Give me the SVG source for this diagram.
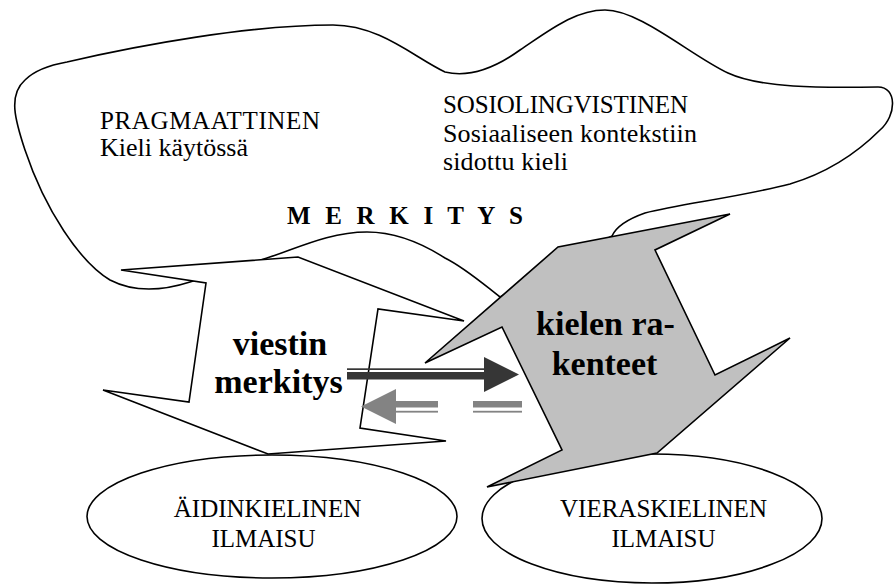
<svg xmlns="http://www.w3.org/2000/svg" width="895" height="585" viewBox="0 0 895 585">
  <style>
    .outline { stroke: #000; stroke-width: 1.6; stroke-linejoin: miter; }
    .txt { font-family: "Liberation Serif", "Times New Roman", serif; font-size: 25px; fill: #000; }
    .low { font-size: 26px; }
    .big { font-family: "Liberation Serif", "Times New Roman", serif; font-size: 34px; font-weight: bold; fill: #000; }
    .dark { fill: #363636; }
    .grey { fill: #838383; }
  </style>

  <!-- background -->
  <rect x="0" y="0" width="895" height="585" fill="#fff"/>

  <!-- meaning cloud -->
  <g id="cloud">
    <path class="outline" fill="#fff" d="M 190 282
      C 165 290, 135 293, 110 280
      C 80 262, 45 210, 25 150
      C 15 120, 8 95, 25 80
      C 35 70, 50 65, 67 62
      C 140 45, 250 25, 333 25
      C 380 25, 415 58, 445 72
      C 470 78, 495 68, 520 50
      C 550 30, 575 10, 605 10
      C 640 10, 690 55, 728 73
      C 760 88, 820 88, 878 87
      C 897 87, 897 115, 880 130
      C 860 150, 830 172, 790 184
      C 740 197, 680 204, 645 213
      C 628 219, 616 227, 612 236
      L 500 297
      C 482 283, 465 268, 445 258
      C 420 242, 395 232, 367 232
      C 330 232, 300 247, 267 258
      Z"/>
    <text class="txt" x="100" y="129" textLength="220" lengthAdjust="spacing">PRAGMAATTINEN</text>
    <text class="txt low" x="100" y="156">Kieli käytössä</text>
    <text class="txt" x="443" y="113" textLength="245" lengthAdjust="spacing">SOSIOLINGVISTINEN</text>
    <text class="txt low" x="443" y="142" textLength="254" lengthAdjust="spacing">Sosiaaliseen kontekstiin</text>
    <text class="txt low" x="443" y="170" textLength="125" lengthAdjust="spacing">sidottu kieli</text>
    <text class="txt" x="287" y="224" font-weight="bold" font-size="23" textLength="236" lengthAdjust="spacing">M E R K I T Y S</text>
  </g>

  <!-- native-language expression -->
  <g id="aidinkielinen">
    <ellipse class="outline" fill="#fff" cx="272" cy="516.5" rx="185" ry="61.5"/>
    <text class="txt" x="267.5" y="517" text-anchor="middle">ÄIDINKIELINEN</text>
    <text class="txt" x="263.5" y="547" text-anchor="middle">ILMAISU</text>
  </g>

  <!-- foreign-language expression -->
  <g id="vieraskielinen">
    <ellipse class="outline" fill="#fff" cx="652" cy="518.5" rx="170" ry="64.5"/>
    <text class="txt" x="663.5" y="517" text-anchor="middle">VIERASKIELINEN</text>
    <text class="txt" x="663.5" y="547" text-anchor="middle">ILMAISU</text>
  </g>

  <!-- message meaning (white zig-zag) -->
  <g id="viestin-merkitys">
    <polygon class="outline" fill="#fff" points="121,270 298,257 464,321 378,309 360,428 446,441 268,454 103,390 189,402 206,283"/>
    <text class="big" x="280" y="355" text-anchor="middle">viestin</text>
    <text class="big" x="278.5" y="393" text-anchor="middle">merkitys</text>
  </g>

  <!-- language structures (grey zig-zag) -->
  <g id="kielen-rakenteet">
    <polygon class="outline" fill="#c0c0c0" points="730,214 558,247 425,363 502,327 562,450 487,487 657,453 790,338 715,375 655,250"/>
    <text class="big" x="605.5" y="335" text-anchor="middle">kielen ra-</text>
    <text class="big" x="604.5" y="375" text-anchor="middle">kenteet</text>
  </g>

  <!-- connectors -->
  <g id="connectors">
    <!-- forward: thin-thick double line with solid head -->
    <g id="arrow-forward">
      <rect class="dark" x="347" y="368.3" width="138" height="1.7"/>
      <rect class="dark" x="347" y="372" width="139" height="7.5"/>
      <polygon class="dark" points="484,357 484,392 519,374.5"/>
    </g>
    <!-- backward: dashed thick-thin double line with head -->
    <g id="arrow-back">
      <polygon class="grey" points="396,389 396,424 361,406.5"/>
      <rect class="grey" x="395" y="401" width="43" height="6.5"/>
      <rect class="grey" x="395" y="410.8" width="43" height="1.8"/>
      <rect class="grey" x="473" y="401" width="49" height="6.5"/>
      <rect class="grey" x="473" y="410.8" width="49" height="1.8"/>
    </g>
  </g>
</svg>
